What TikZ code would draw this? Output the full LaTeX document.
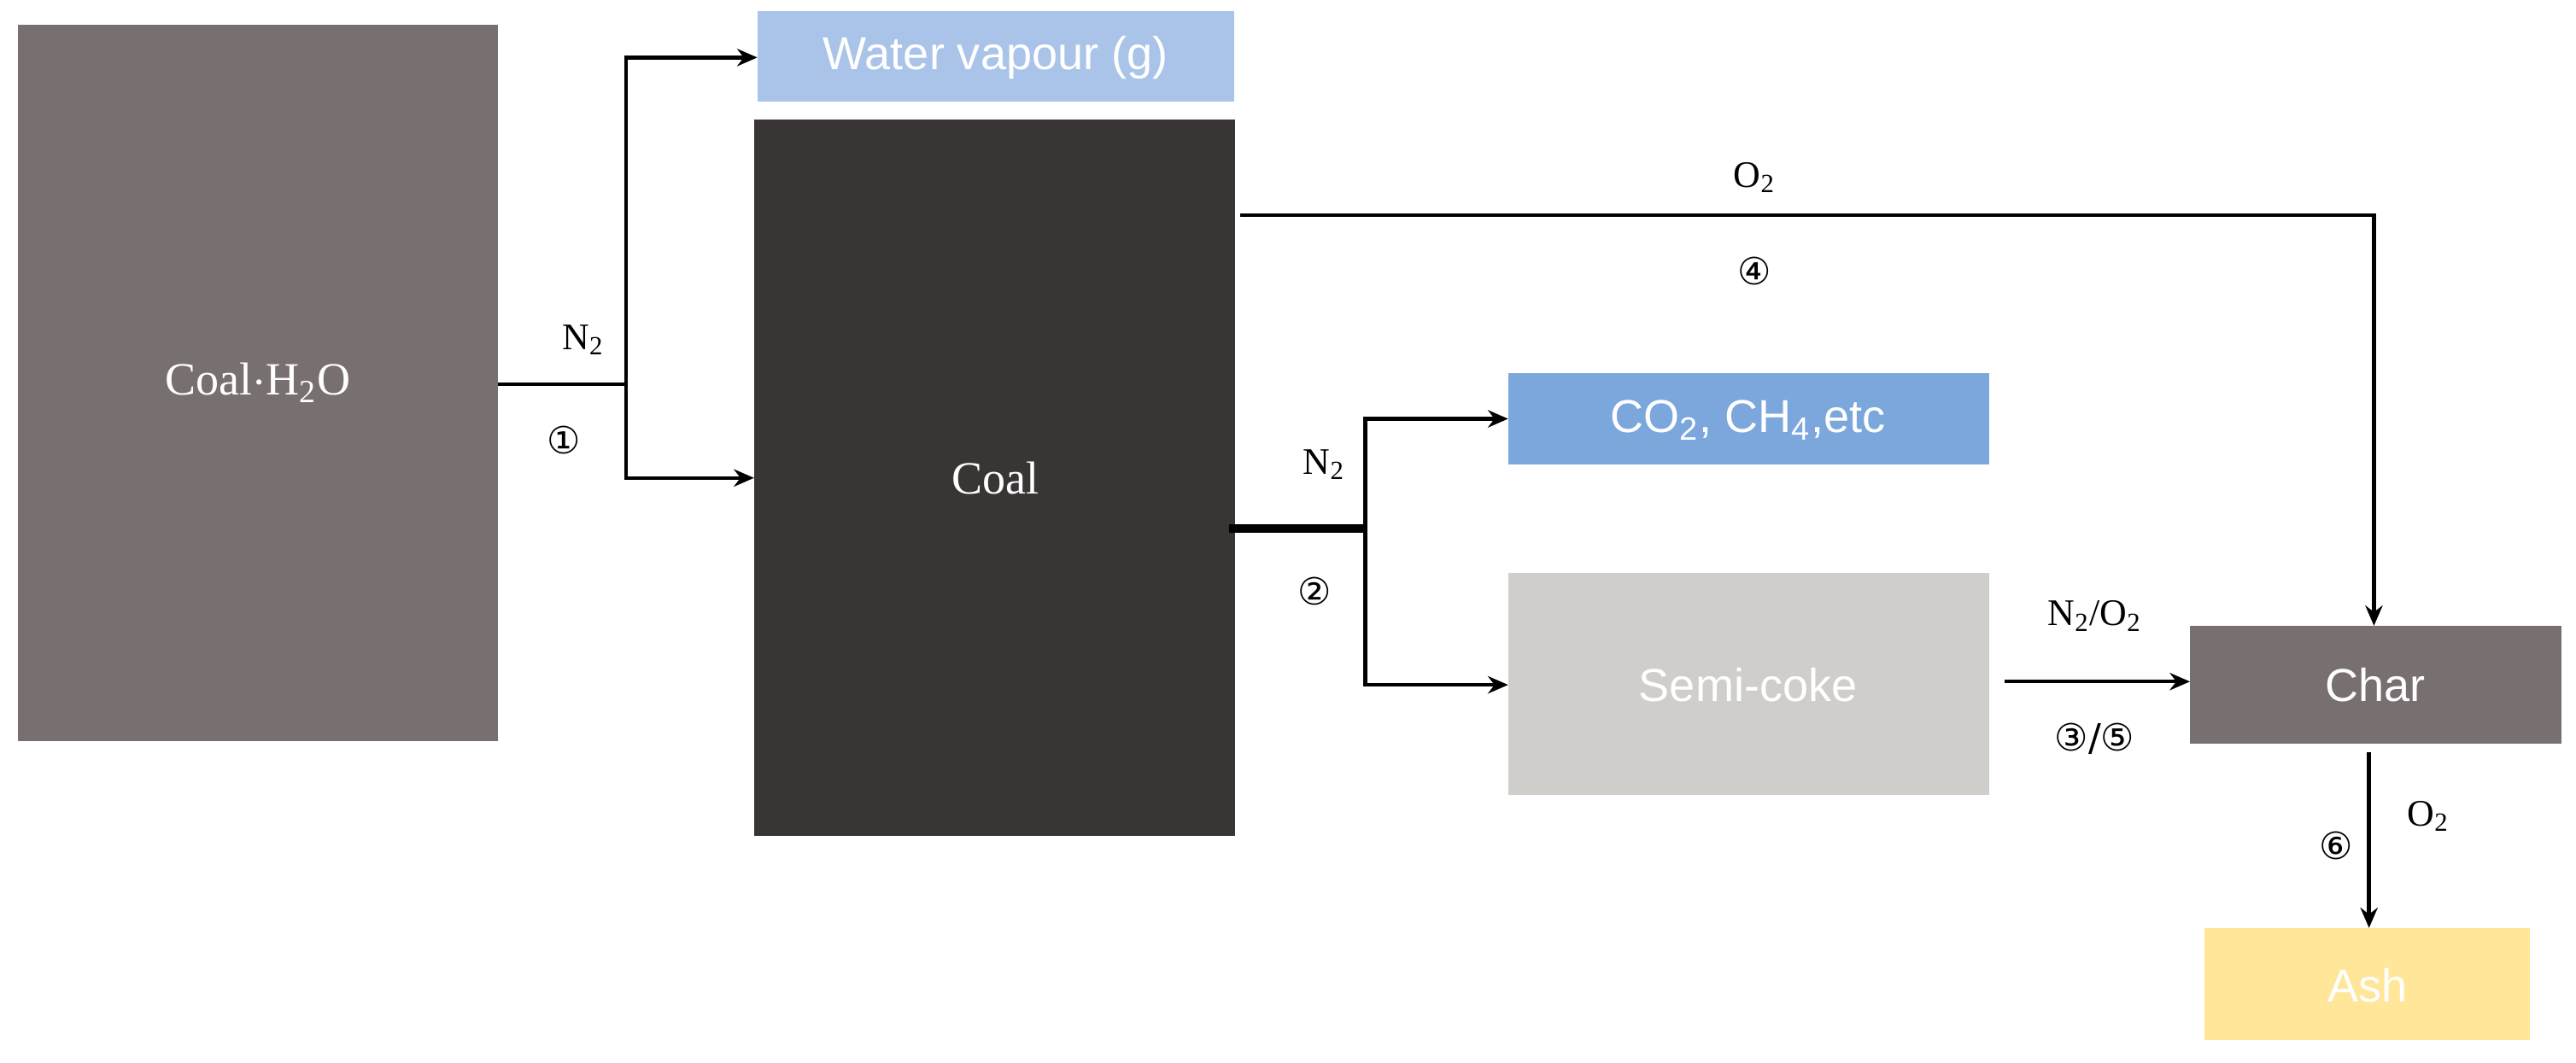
\documentclass[tikz,border=0pt]{standalone}
\usepackage{fontspec}
\setmainfont{Liberation Serif}
\newfontfamily\sansf{Liberation Sans}
\newfontfamily\circf{DejaVu Sans}
\usetikzlibrary{arrows.meta}
\definecolor{cgray}{HTML}{787070}
\definecolor{cdark}{HTML}{3A3535}
\definecolor{clblue}{HTML}{A9C4E8}
\definecolor{cblue}{HTML}{7BA7DD}
\definecolor{clgray}{HTML}{D0CECB}
\definecolor{cyel}{HTML}{FFE699}
\begin{document}
\begin{tikzpicture}[x=0.02cm,y=-0.02cm,
 box/.style={inner sep=0,text=white,font=\fontsize{16}{18}\selectfont},
 sbox/.style={box,font=\sansf\fontsize{16}{18}\selectfont},
 lab/.style={font=\fontsize{13}{15}\selectfont},
 circ/.style={font=\circf\fontsize{13}{15}\selectfont},
 arr/.style={line width=1.3pt,-{Stealth[length=7pt,width=6pt]}},
 ln/.style={line width=1.3pt}]
\useasboundingbox (0,0) rectangle (1568,647);
\fill[cgray] (11,15) rectangle (303,451);
\node[box] (ch2o) at (157,233) {Coal$\cdot$H\textsubscript{2}O};
\fill[clblue] (461,7) rectangle (751,62);
\node[sbox] (wv) at (606,35) {Water vapour (g)};
\fill[cdark] (459,73) rectangle (752,509);
\node[box] (coal) at (606,291) {Coal};
\fill[cblue] (918,227) rectangle (1211,283);
\node[sbox] (co2) at (1064,256) {CO\textsubscript{2}, CH\textsubscript{4},etc};
\fill[clgray] (918,349) rectangle (1211,484);
\node[sbox] (sc) at (1064,417) {Semi-coke};
\fill[cgray] (1333,381) rectangle (1559,453);
\node[sbox] (char) at (1446,417) {Char};
\fill[cyel] (1342,565) rectangle (1540,633);
\node[sbox] (ash) at (1441,600) {Ash};
\coordinate (a0) at (303,234); \coordinate (a1) at (381,234);
\draw[ln] (a0) -- (a1);
\draw[arr] (381,234) |- (461,35);
\draw[arr] (381,234) |- (459,291);
\node[lab] at (355,207) {N\textsubscript{2}};
\node[circ] at (343,268) {①};
\draw[line width=3pt] (748,322) -- (831,322);
\draw[arr] (831,323) |- (918,255);
\draw[arr] (831,321) |- (918,417);
\node[lab] at (806,283) {N\textsubscript{2}};
\node[circ] at (800,360) {②};
\draw[arr] (755,131) -| (1445,381);
\node[lab] at (1068,108) {O\textsubscript{2}};
\node[circ] at (1068,165) {④};
\draw[arr] (1220,415) -- (1333,415);
\node[lab] at (1275,375) {N\textsubscript{2}/O\textsubscript{2}};
\node[circ] at (1275,450) {③/⑤};
\draw[arr] (1442,458) -- (1442,565);
\node[circ] at (1422,515) {⑥};
\node[lab] at (1478,497) {O\textsubscript{2}};
\end{tikzpicture}
\end{document}
